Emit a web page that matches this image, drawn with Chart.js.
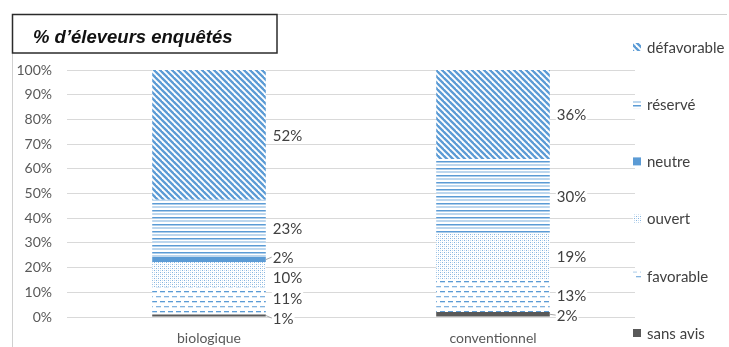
<!DOCTYPE html>
<html>
<head>
<meta charset="utf-8">
<script src="https://cdn.jsdelivr.net/npm/chart.js@4/dist/chart.umd.min.js"></script>
<style>
  html, body { margin: 0; padding: 0; background: #fff; }
  #wrap { position: relative; width: 729px; height: 347px; }
</style>
</head>
<body>
<div id="wrap"><canvas id="chart"></canvas></div>
<script>
const categories = ['biologique', 'conventionnel'];
const sansAvis = [1, 2];
const favorable = [11, 13];
const ouvert = [10, 19];
const neutre = [2, 0];
const reserve = [23, 30];
const defavorable = [52, 36];
const yTicks = [0, 10, 20, 30, 40, 50, 60, 70, 80, 90, 100];
const chartTitle = '% d’éleveurs enquêtés';

const BLUE = '#5b9bd5';
const FONT = 'Lato, "Open Sans", sans-serif';

function tile(w, h, draw) {
  const c = document.createElement('canvas');
  c.width = w; c.height = h;
  const g = c.getContext('2d');
  g.fillStyle = '#fff';
  g.fillRect(0, 0, w, h);
  draw(g);
  return c.getContext('2d').createPattern(c, 'repeat');
}

const patterns = {
  diag: tile(6, 6, g => {
    g.strokeStyle = BLUE; g.lineWidth = 2.3;
    for (let k = -1; k <= 1; k++) {
      g.beginPath(); g.moveTo(k * 6 - 1, -1); g.lineTo(k * 6 + 7, 7); g.stroke();
    }
  }),
  horiz: tile(8, 7, g => {
    g.fillStyle = BLUE;
    g.fillRect(0, 0, 8, 1.5);
    g.globalAlpha = 0.8;
    g.fillRect(0, 3.5, 8, 1);
  }),
  dots: tile(4, 4, g => {
    g.fillStyle = 'rgba(91,155,213,0.75)';
    g.fillRect(0, 0, 1, 1);
    g.fillRect(2, 2, 1, 1);
    g.fillStyle = 'rgba(91,155,213,0.35)';
    g.fillRect(2, 0, 1, 1);
    g.fillRect(0, 2, 1, 1);
  }),
  dash: tile(16, 10, g => {
    g.fillStyle = BLUE;
    g.fillRect(0, 1, 5, 1.3); g.fillRect(8, 1, 5, 1.3);
    g.globalAlpha = 0.75;
    g.fillRect(4, 6, 5, 1.3); g.fillRect(12, 6, 4, 1.3); g.fillRect(0, 6, 1, 1.3);
  })
};

const totals = categories.map((_, i) =>
  sansAvis[i] + favorable[i] + ouvert[i] + neutre[i] + reserve[i] + defavorable[i]);
const pct = arr => arr.map((v, i) => v / totals[i] * 100);

const series = [
  {label: 'sans avis', values: sansAvis, fill: '#595959'},
  {label: 'favorable', values: favorable, fill: patterns.dash},
  {label: 'ouvert', values: ouvert, fill: patterns.dots},
  {label: 'neutre', values: neutre, fill: BLUE},
  {label: 'réservé', values: reserve, fill: patterns.horiz},
  {label: 'défavorable', values: defavorable, fill: patterns.diag}
];

// title box, frame lines and white background
const framePlugin = {
  id: 'frame',
  beforeDraw(chart) {
    const ctx = chart.ctx;
    ctx.save();
    ctx.fillStyle = '#fff';
    ctx.fillRect(0, 0, chart.width, chart.height);
    ctx.strokeStyle = '#d0d0d0';
    ctx.lineWidth = 1;
    ctx.beginPath();
    ctx.moveTo(12.5, 53); ctx.lineTo(12.5, chart.height);
    ctx.moveTo(277, 14.5); ctx.lineTo(727, 14.5);
    ctx.stroke();
    ctx.restore();
  },
  afterDraw(chart) {
    const ctx = chart.ctx;
    ctx.save();
    ctx.fillStyle = '#fff';
    ctx.fillRect(12, 14, 265, 39);
    ctx.strokeStyle = '#2b2b2b';
    ctx.lineWidth = 1.5;
    ctx.strokeRect(12.5, 14.5, 264.5, 38.5);
    ctx.fillStyle = '#111';
    ctx.font = 'italic bold 18.5px "Liberation Sans", Arial, sans-serif';
    ctx.textBaseline = 'alphabetic';
    ctx.fillText(chartTitle, 33, 43);
    ctx.restore();
  }
};

// legend on the right, top series first
const legendPlugin = {
  id: 'sideLegend',
  afterDraw(chart) {
    const ctx = chart.ctx;
    const ds = chart.data.datasets.slice().reverse();
    ctx.save();
    ctx.font = '15px ' + FONT;
    ctx.textBaseline = 'middle';
    ds.forEach((d, k) => {
      const y = 47 + k * 57.2;
      ctx.fillStyle = d.backgroundColor;
      ctx.fillRect(633, y - 4, 8, 8);
      ctx.fillStyle = '#404040';
      ctx.fillText(d.label, 647, y + 1);
    });
    ctx.restore();
  }
};

// value labels right of the bars, nudged apart when too close
const labelPlugin = {
  id: 'valueLabels',
  afterDatasetsDraw(chart) {
    const ctx = chart.ctx;
    ctx.save();
    ctx.font = '15px ' + FONT;
    ctx.textBaseline = 'middle';
    categories.forEach((_, i) => {
      const items = [];
      chart.data.datasets.forEach((d, di) => {
        const v = d.values[i];
        if (!v) return;
        const el = chart.getDatasetMeta(di).data[i];
        const mid = (el.y + el.base) / 2;
        items.push({text: v + '%', mid, y: mid, h: el.base - el.y, right: el.x + el.width / 2});
      });
      items.sort((a, b) => b.mid - a.mid);
      const gap = 20;
      for (let it = 0; it < 20; it++) {
        for (let k = 0; k < items.length - 1; k++) {
          const a = items[k], b = items[k + 1];
          const d = a.y - b.y;
          if (d < gap) { a.y += (gap - d) / 2; b.y -= (gap - d) / 2; }
        }
      }
      items.forEach(o => {
        const x = o.right + 6;
        const w = ctx.measureText(o.text).width;
        if (o.h < 8) {
          ctx.strokeStyle = '#a6a6a6';
          ctx.lineWidth = 1;
          ctx.beginPath();
          ctx.moveTo(o.right, o.mid);
          ctx.lineTo(x, o.y);
          ctx.stroke();
        }
        ctx.fillStyle = '#fff';
        ctx.fillRect(x, o.y - 9, w + 2, 18);
        ctx.fillStyle = '#404040';
        ctx.fillText(o.text, x + 1, o.y + 1);
      });
    });
    ctx.restore();
  }
};

new Chart(document.getElementById('chart'), {
  type: 'bar',
  data: {
    labels: categories,
    datasets: series.map(s => ({
      label: s.label,
      values: s.values,
      data: pct(s.values),
      backgroundColor: s.fill,
      borderWidth: 0,
      categoryPercentage: 1,
      barPercentage: 0.4
    }))
  },
  options: {
    responsive: true,
    maintainAspectRatio: false,
    animation: false,
    layout: {padding: {top: 70, right: 94, left: 0, bottom: 0}},
    scales: {
      x: {
        stacked: true,
        grid: {display: false, drawTicks: false},
        border: {display: false},
        ticks: {color: '#595959', font: {family: FONT, size: 14}, padding: 13},
        afterFit: s => { s.height = 30; }
      },
      y: {
        stacked: true,
        min: 0,
        max: 100,
        afterBuildTicks: s => { s.ticks = yTicks.map(v => ({value: v})); },
        ticks: {color: '#595959', font: {family: FONT, size: 14}, padding: 15, callback: v => v + '%'},
        grid: {color: '#d9d9d9', drawTicks: false},
        border: {display: false},
        afterFit: s => { s.width = 67; }
      }
    },
    plugins: {legend: {display: false}, tooltip: {enabled: false}}
  },
  plugins: [framePlugin, legendPlugin, labelPlugin]
});
</script>
</body>
</html>
